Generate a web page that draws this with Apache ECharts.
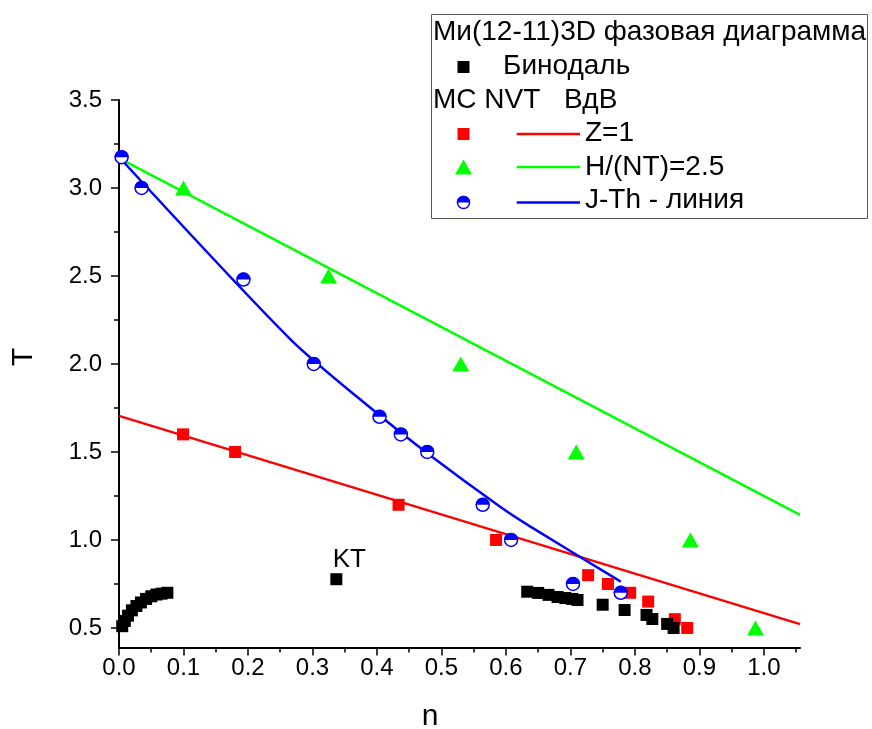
<!DOCTYPE html>
<html><head><meta charset="utf-8">
<script src="https://cdn.jsdelivr.net/npm/echarts@6/dist/echarts.min.js"></script>
<style>html,body{margin:0;padding:0;background:#fff}#c{width:872px;height:729px}</style>
</head><body><div id="c"></div>
<script>
// ---- data ----
const binodalN = [0.005,0.009,0.014,0.020,0.027,0.034,0.042,0.050,0.058,0.066,0.075,
                  0.633,0.650,0.666,0.680,0.692,0.703,0.711,0.750,0.784,0.818,0.827,0.850,0.860];
const binodalT = [0.51,0.54,0.57,0.60,0.625,0.645,0.665,0.68,0.69,0.695,0.70,
                  0.706,0.699,0.688,0.676,0.670,0.665,0.659,0.632,0.602,0.574,0.551,0.523,0.50];
const critN = [0.337];
const critT = [0.777];
const critLabel = ['KT'];
const zN = [0.0993,0.180,0.4335,0.5847,0.7275,0.7582,0.7927,0.8206,0.8619,0.8811];
const zT = [1.6,1.5,1.2,1.0,0.8,0.75,0.7,0.65,0.55,0.5];
const hN = [0.100,0.325,0.530,0.709,0.886,0.987];
const hT = [3.0,2.5,2.0,1.5,1.0,0.5];
const jN = [0.004,0.035,0.193,0.302,0.404,0.437,0.478,0.564,0.608,0.704,0.778];
const jT = [3.175,3.0,2.48,2.0,1.7,1.6,1.5,1.2,1.0,0.75,0.7];
const zLineN = [0,1.056];
const zLineT = [1.705,0.522];
const hLineN = [0,1.056];
const hLineT = [3.17,1.142];
const jLineN = [0,0.267,0.400,0.478,0.591,0.638,0.778];
const jLineT = [3.176,2.136,1.720,1.493,1.189,1.076,0.763];
const xMajor = [0,0.1,0.2,0.3,0.4,0.5,0.6,0.7,0.8,0.9,1.0];
const xMinor = [0.05,0.15,0.25,0.35,0.45,0.55,0.65,0.75,0.85,0.95,1.05];
const yMajor = [0.5,1.0,1.5,2.0,2.5,3.0,3.5];
const yMinor = [0.75,1.25,1.75,2.25,2.75,3.25];
const legendTitle = 'Ми(12-11)3D фазовая диаграмма';
const legendBinodal = 'Бинодаль';
const legendMC = 'MC NVT';
const legendVdW = 'ВдВ';
const legendZ = 'Z=1';
const legendH = 'H/(NT)=2.5';
const legendJ = 'J-Th - линия';
const xTitle = 'n';
const yTitle = 'T';

// ---- chart ----
const FF = '"Liberation Sans", Arial, sans-serif';
const zip = (a, b) => a.map((v, i) => [v, b[i]]);
const RED = '#ff0000', GREEN = '#00ff00', BLUE = '#0000ff';
const X0 = 0, X1 = 1.056, Y0 = 0.389, Y1 = 3.5;
const LF = '28px ' + FF;

const chart = echarts.init(document.getElementById('c'), null, {renderer: 'canvas'});
const axisBase = {
  type: 'value', splitLine: {show: false},
};
const option = {
  animation: false,
  backgroundColor: '#fff',
  grid: {left: 119, right: 72, top: 100, bottom: 81.5, containLabel: false, outerBoundsMode: 'none'},
  xAxis: [
    Object.assign({}, axisBase, {
      min: X0, max: X1, position: 'bottom',
      axisLine: {show: true, onZero: false, lineStyle: {color: '#000', width: 2}},
      axisTick: {show: true, inside: false, length: 8, customValues: xMajor, lineStyle: {color: '#000', width: 1.5}},
      axisLabel: {show: true, customValues: xMajor, margin: 9, color: '#000', fontSize: 24, fontFamily: FF,
                  formatter: v => (+v).toFixed(1)}
    }),
    Object.assign({}, axisBase, {
      min: X0, max: X1, position: 'bottom', offset: 0,
      axisLine: {show: false, onZero: false},
      axisTick: {show: true, inside: false, length: 5, customValues: xMinor, lineStyle: {color: '#000', width: 1.5}},
      axisLabel: {show: false}
    })
  ],
  yAxis: [
    Object.assign({}, axisBase, {
      min: Y0, max: Y1, position: 'left',
      axisLine: {show: true, onZero: false, lineStyle: {color: '#000', width: 2}},
      axisTick: {show: true, inside: false, length: 8, customValues: yMajor, lineStyle: {color: '#000', width: 1.5}},
      axisLabel: {show: true, customValues: yMajor, margin: 17, color: '#000', fontSize: 24, fontFamily: FF,
                  formatter: v => (+v).toFixed(1)}
    }),
    Object.assign({}, axisBase, {
      min: Y0, max: Y1, position: 'left', offset: 0,
      axisLine: {show: false, onZero: false},
      axisTick: {show: true, inside: false, length: 5, customValues: yMinor, lineStyle: {color: '#000', width: 1.5}},
      axisLabel: {show: false}
    })
  ],
  series: [
    {type: 'line', name: 'Z line', data: zip(zLineN, zLineT), symbol: 'none', lineStyle: {color: RED, width: 2.5}, z: 2},
    {type: 'line', name: 'H line', data: zip(hLineN, hLineT), symbol: 'none', lineStyle: {color: GREEN, width: 2.5}, z: 2},
    {type: 'line', name: 'J line', data: zip(jLineN, jLineT), symbol: 'none', smooth: 0.25, lineStyle: {color: BLUE, width: 2.5}, z: 2},
    {type: 'scatter', name: 'Z', data: zip(zN, zT), symbol: 'rect', symbolSize: 12, itemStyle: {color: RED, opacity: 1}, z: 3},
    {type: 'scatter', name: 'H', data: zip(hN, hT), symbol: 'triangle', symbolSize: [17, 15], itemStyle: {color: GREEN, opacity: 1}, z: 3},
    {type: 'scatter', name: 'Бинодаль', data: zip(binodalN, binodalT), symbol: 'rect', symbolSize: 12, itemStyle: {color: '#000', opacity: 1}, z: 4},
    {type: 'scatter', name: 'KT', data: zip(critN, critT).map((p, i) => ({value: p, label: {formatter: critLabel[i]}})),
     symbol: 'rect', symbolSize: 12, itemStyle: {color: '#000', opacity: 1}, z: 4,
     label: {show: true, position: 'inside', offset: [13, -19], color: '#000', fontSize: 26, fontFamily: FF}},
    {type: 'scatter', name: 'J base', data: zip(jN, jT), symbol: 'circle', symbolSize: 13,
     itemStyle: {color: '#fff', borderColor: BLUE, borderWidth: 1.5, opacity: 1}, z: 5},
    {type: 'scatter', name: 'J top', data: zip(jN, jT), symbol: 'path://M0,10 A10,10 0 0 1 20,10 Z',
     symbolSize: [14, 7], symbolOffset: [0, -3.5], itemStyle: {color: BLUE, opacity: 1}, z: 6}
  ],
  graphic: [
    {type: 'text', x: 430, y: 717, z: 10, style: {text: xTitle, font: '30px ' + FF, fill: '#000', align: 'center', verticalAlign: 'middle'}},
    {type: 'text', x: 24, y: 357, rotation: Math.PI / 2, z: 10, style: {text: yTitle, font: '30px ' + FF, fill: '#000', align: 'center', verticalAlign: 'middle'}},
    {type: 'rect', z: 10, shape: {x: 431.5, y: 14.5, width: 436, height: 204}, style: {fill: '#fff', stroke: '#555', lineWidth: 1}},
    {type: 'text', x: 433, y: 32.5, z: 11, style: {text: legendTitle, font: LF, fill: '#000', align: 'left', verticalAlign: 'middle'}},
    {type: 'rect', z: 11, shape: {x: 457.5, y: 61, width: 12, height: 12}, style: {fill: '#000'}},
    {type: 'text', x: 503, y: 66.5, z: 11, style: {text: legendBinodal, font: LF, fill: '#000', align: 'left', verticalAlign: 'middle'}},
    {type: 'text', x: 433, y: 100, z: 11, style: {text: legendMC, font: LF, fill: '#000', align: 'left', verticalAlign: 'middle'}},
    {type: 'text', x: 564, y: 100, z: 11, style: {text: legendVdW, font: LF, fill: '#000', align: 'left', verticalAlign: 'middle'}},
    {type: 'rect', z: 11, shape: {x: 457.5, y: 128, width: 12, height: 12}, style: {fill: RED}},
    {type: 'line', z: 11, shape: {x1: 516.7, y1: 134, x2: 580, y2: 134}, style: {stroke: RED, lineWidth: 2.5}},
    {type: 'text', x: 585, y: 133.5, z: 11, style: {text: legendZ, font: LF, fill: '#000', align: 'left', verticalAlign: 'middle'}},
    {type: 'polygon', z: 11, shape: {points: [[463.5, 159.5], [472, 174.5], [455, 174.5]]}, style: {fill: GREEN}},
    {type: 'line', z: 11, shape: {x1: 516.7, y1: 167, x2: 580, y2: 167}, style: {stroke: GREEN, lineWidth: 2.5}},
    {type: 'text', x: 585, y: 167, z: 11, style: {text: legendH, font: LF, fill: '#000', align: 'left', verticalAlign: 'middle'}},
    {type: 'circle', z: 11, shape: {cx: 463.5, cy: 202.5, r: 6}, style: {fill: '#fff', stroke: BLUE, lineWidth: 1.5}},
    {type: 'sector', z: 12, shape: {cx: 463.5, cy: 202.5, r: 6.8, r0: 0, startAngle: Math.PI, endAngle: 2 * Math.PI}, style: {fill: BLUE}},
    {type: 'line', z: 11, shape: {x1: 516.7, y1: 202.5, x2: 580, y2: 202.5}, style: {stroke: BLUE, lineWidth: 2.5}},
    {type: 'text', x: 585, y: 200.5, z: 11, style: {text: legendJ, font: LF, fill: '#000', align: 'left', verticalAlign: 'middle'}}
  ]
};
chart.setOption(option);
</script>
</body></html>
